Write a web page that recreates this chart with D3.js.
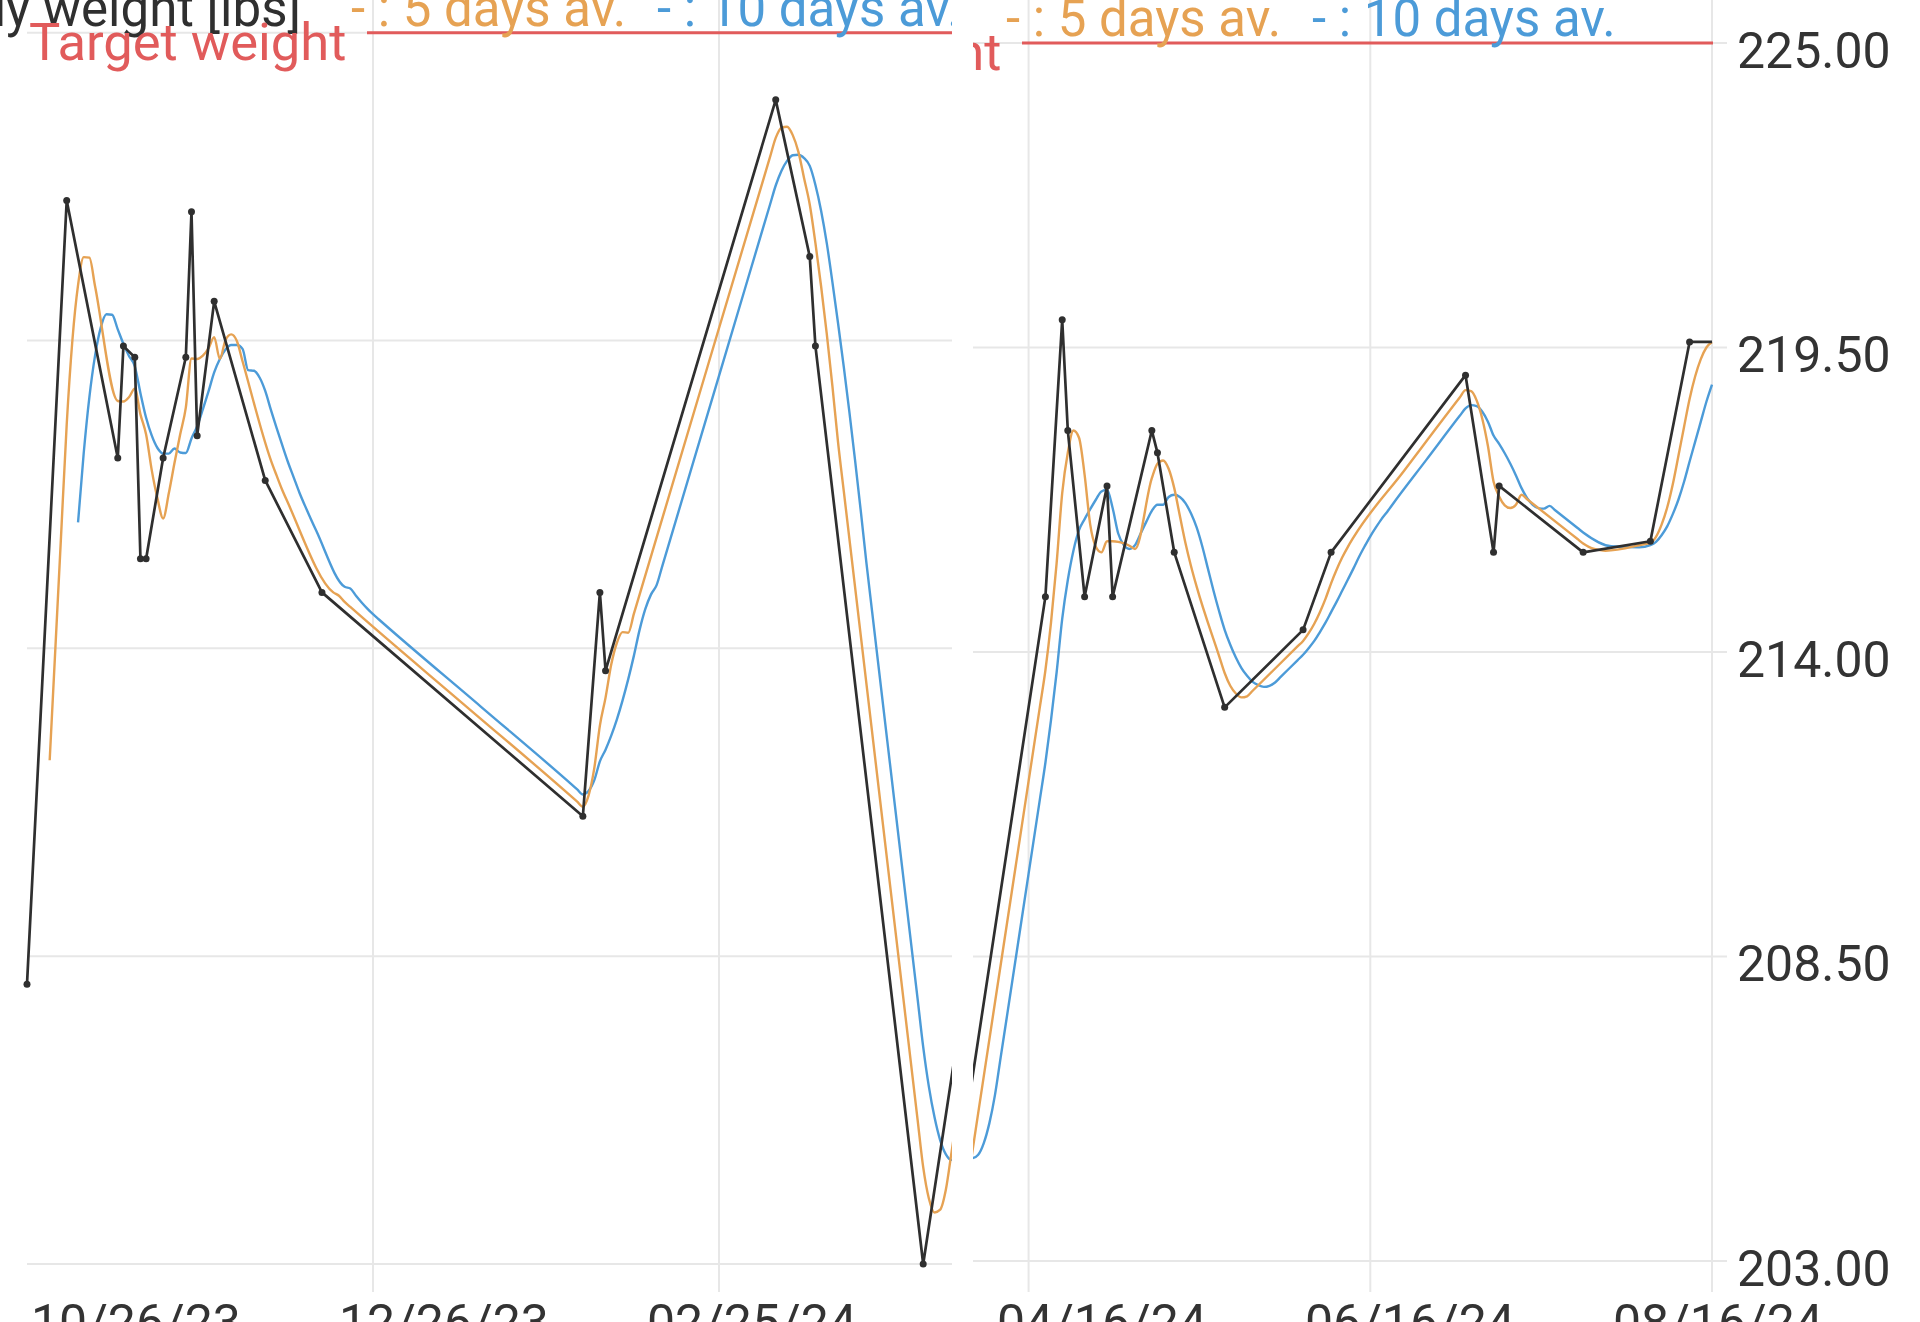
<!DOCTYPE html>
<html>
<head>
<meta charset="utf-8">
<script src="https://cdn.jsdelivr.net/npm/d3@7"></script>
<style>
  html, body { margin: 0; padding: 0; background: #fff; }
  svg { display: block; font-family: Roboto, "Noto Sans", sans-serif; }
</style>
</head>
<body>
<svg id="chart" width="1920" height="1322"></svg>
<script>
// measured weights (lbs)
const weightDates = ["2023-10-26","2023-11-02","2023-11-11","2023-11-12","2023-11-14","2023-11-15","2023-11-16","2023-11-19","2023-11-23","2023-11-24","2023-11-25","2023-11-28","2023-12-07","2023-12-17","2024-02-01","2024-02-04","2024-02-05","2024-03-06","2024-03-12","2024-03-13","2024-04-01","2024-04-19","2024-04-22","2024-04-23","2024-04-26","2024-04-30","2024-05-01","2024-05-08","2024-05-09","2024-05-12","2024-05-21","2024-06-04","2024-06-09","2024-07-03","2024-07-08","2024-07-09","2024-07-24","2024-08-05","2024-08-12"];
const weightValues = [208.0,222.0,217.4,219.4,219.2,215.6,215.6,217.4,219.2,221.8,217.8,220.2,217.0,215.0,211.0,215.0,213.6,223.8,221.0,219.4,203.0,215.0,220.0,218.0,215.0,217.0,215.0,218.0,217.6,215.8,213.0,214.4,215.8,219.0,215.8,217.0,215.8,216.0,219.6];
const todayDate = "2024-08-16";

// 5 days average
const avg5Dates = ["2023-10-30","2023-10-31","2023-11-01","2023-11-02","2023-11-03","2023-11-04","2023-11-05","2023-11-06","2023-11-07","2023-11-11","2023-11-12","2023-11-13","2023-11-14","2023-11-15","2023-11-16","2023-11-17","2023-11-18","2023-11-19","2023-11-20","2023-11-21","2023-11-22","2023-11-23","2023-11-24","2023-11-25","2023-11-26","2023-11-27","2023-11-28","2023-11-29","2023-11-30","2023-12-01","2023-12-02","2023-12-03","2023-12-08","2023-12-09","2023-12-10","2023-12-11","2023-12-19","2023-12-20","2023-12-21","2023-12-22","2024-01-11","2024-01-30","2024-01-31","2024-02-01","2024-02-02","2024-02-03","2024-02-04","2024-02-05","2024-02-06","2024-02-07","2024-02-08","2024-02-09","2024-02-10","2024-02-11","2024-02-23","2024-03-05","2024-03-06","2024-03-07","2024-03-08","2024-03-09","2024-03-10","2024-03-11","2024-03-12","2024-03-13","2024-03-14","2024-03-15","2024-03-16","2024-03-17","2024-03-18","2024-03-25","2024-03-31","2024-04-01","2024-04-02","2024-04-03","2024-04-04","2024-04-05","2024-04-06","2024-04-07","2024-04-13","2024-04-18","2024-04-19","2024-04-20","2024-04-21","2024-04-22","2024-04-23","2024-04-24","2024-04-25","2024-04-26","2024-04-27","2024-04-28","2024-04-29","2024-04-30","2024-05-01","2024-05-02","2024-05-03","2024-05-04","2024-05-05","2024-05-08","2024-05-09","2024-05-10","2024-05-11","2024-05-12","2024-05-13","2024-05-14","2024-05-15","2024-05-16","2024-05-20","2024-05-21","2024-05-22","2024-05-23","2024-05-24","2024-05-25","2024-05-26","2024-06-03","2024-06-04","2024-06-05","2024-06-06","2024-06-07","2024-06-08","2024-06-09","2024-06-10","2024-06-11","2024-06-12","2024-06-13","2024-06-22","2024-07-02","2024-07-03","2024-07-04","2024-07-05","2024-07-06","2024-07-07","2024-07-08","2024-07-09","2024-07-10","2024-07-11","2024-07-12","2024-07-13","2024-07-14","2024-07-23","2024-07-24","2024-07-25","2024-07-26","2024-07-27","2024-07-28","2024-08-04","2024-08-05","2024-08-06","2024-08-07","2024-08-08","2024-08-09","2024-08-10","2024-08-11","2024-08-12","2024-08-13","2024-08-14","2024-08-15","2024-08-16"];
const avg5Values = [212.0,214.0,216.0,218.0,219.5,220.49,220.99,220.98,220.47,218.42,218.41,218.49,218.64,218.18,217.82,217.18,216.68,216.32,216.77,217.31,217.82,218.3,219.18,219.17,219.23,219.36,219.56,219.17,219.51,219.61,219.49,219.13,217.36,217.09,216.83,216.6,215.0,214.94,214.83,214.74,213.0,211.35,211.26,211.17,211.37,211.85,212.62,213.12,213.71,214.1,214.29,214.28,214.62,214.96,219.04,222.78,223.12,223.3,223.32,223.17,222.87,222.4,221.93,221.24,220.47,219.62,218.68,217.67,216.81,210.77,205.59,204.73,204.17,203.92,203.97,204.33,205.0,205.67,209.67,213.0,213.67,214.53,215.6,216.87,217.6,218.0,217.87,217.2,216.3,215.9,215.8,216.0,216.0,215.99,215.96,215.92,215.86,217.14,217.4,217.46,217.31,216.96,216.46,215.97,215.55,215.18,213.93,213.62,213.39,213.25,213.18,213.2,213.3,214.1,214.2,214.34,214.51,214.72,214.96,215.24,215.49,215.71,215.9,216.07,217.27,218.6,218.73,218.71,218.54,218.21,217.72,217.08,216.81,216.65,216.6,216.66,216.84,216.76,216.04,215.96,215.9,215.86,215.84,215.83,215.95,215.97,216.08,216.3,216.61,217.03,217.54,218.06,218.57,218.98,219.29,219.5,219.6];

// 10 days average
const avg10Dates = ["2023-11-04","2023-11-05","2023-11-06","2023-11-07","2023-11-08","2023-11-09","2023-11-10","2023-11-11","2023-11-12","2023-11-13","2023-11-14","2023-11-15","2023-11-16","2023-11-17","2023-11-18","2023-11-19","2023-11-20","2023-11-21","2023-11-22","2023-11-23","2023-11-24","2023-11-25","2023-11-26","2023-11-27","2023-11-28","2023-11-29","2023-11-30","2023-12-01","2023-12-02","2023-12-03","2023-12-04","2023-12-05","2023-12-06","2023-12-07","2023-12-08","2023-12-09","2023-12-10","2023-12-11","2023-12-12","2023-12-13","2023-12-14","2023-12-15","2023-12-16","2023-12-21","2023-12-22","2023-12-23","2023-12-24","2023-12-25","2023-12-26","2023-12-27","2024-01-14","2024-01-30","2024-01-31","2024-02-01","2024-02-02","2024-02-03","2024-02-04","2024-02-05","2024-02-06","2024-02-07","2024-02-08","2024-02-09","2024-02-10","2024-02-11","2024-02-12","2024-02-13","2024-02-14","2024-02-15","2024-02-16","2024-02-25","2024-03-05","2024-03-06","2024-03-07","2024-03-08","2024-03-09","2024-03-10","2024-03-11","2024-03-12","2024-03-13","2024-03-14","2024-03-15","2024-03-16","2024-03-17","2024-03-18","2024-03-19","2024-03-20","2024-03-21","2024-03-22","2024-03-23","2024-03-27","2024-03-31","2024-04-01","2024-04-02","2024-04-03","2024-04-04","2024-04-05","2024-04-06","2024-04-07","2024-04-08","2024-04-09","2024-04-10","2024-04-11","2024-04-12","2024-04-15","2024-04-18","2024-04-19","2024-04-20","2024-04-21","2024-04-22","2024-04-23","2024-04-24","2024-04-25","2024-04-26","2024-04-27","2024-04-28","2024-04-29","2024-04-30","2024-05-01","2024-05-02","2024-05-03","2024-05-04","2024-05-05","2024-05-06","2024-05-07","2024-05-08","2024-05-09","2024-05-10","2024-05-11","2024-05-12","2024-05-13","2024-05-14","2024-05-15","2024-05-16","2024-05-17","2024-05-18","2024-05-19","2024-05-20","2024-05-21","2024-05-22","2024-05-23","2024-05-24","2024-05-25","2024-05-26","2024-05-27","2024-05-28","2024-05-29","2024-05-30","2024-05-31","2024-06-03","2024-06-04","2024-06-05","2024-06-06","2024-06-07","2024-06-08","2024-06-09","2024-06-10","2024-06-11","2024-06-12","2024-06-13","2024-06-14","2024-06-15","2024-06-16","2024-06-17","2024-06-18","2024-06-19","2024-06-20","2024-06-26","2024-07-02","2024-07-03","2024-07-04","2024-07-05","2024-07-06","2024-07-07","2024-07-08","2024-07-09","2024-07-10","2024-07-11","2024-07-12","2024-07-13","2024-07-14","2024-07-15","2024-07-16","2024-07-17","2024-07-18","2024-07-19","2024-07-23","2024-07-24","2024-07-29","2024-08-03","2024-08-05","2024-08-06","2024-08-07","2024-08-08","2024-08-09","2024-08-10","2024-08-11","2024-08-12","2024-08-13","2024-08-14","2024-08-15","2024-08-16"];
const avg10Values = [216.25,217.49,218.49,219.23,219.73,219.97,219.96,219.7,219.44,219.22,219.04,218.56,218.12,217.8,217.58,217.48,217.48,217.57,217.5,217.49,217.75,217.97,218.27,218.59,218.93,219.17,219.34,219.42,219.42,219.35,218.97,218.96,218.84,218.6,218.26,217.94,217.63,217.33,217.06,216.79,216.55,216.32,216.1,215.1,215.07,214.94,214.82,214.71,214.61,214.52,212.96,211.57,211.48,211.39,211.45,211.64,211.98,212.19,212.44,212.73,213.07,213.45,213.87,214.33,214.7,214.96,215.13,215.47,215.81,218.87,221.93,222.27,222.53,222.71,222.81,222.82,222.76,222.62,222.28,221.82,221.24,220.54,219.8,219.03,218.21,217.35,216.45,215.52,214.65,211.2,207.75,206.88,206.17,205.62,205.21,204.96,204.86,204.92,205.13,205.49,206.0,206.67,207.33,209.33,211.33,212.0,212.77,213.63,214.6,215.3,215.83,216.2,216.4,216.58,216.75,216.9,216.93,216.6,216.14,215.93,215.86,215.93,216.14,216.35,216.55,216.66,216.66,216.8,216.84,216.8,216.69,216.5,216.25,215.91,215.51,215.11,214.74,214.4,214.13,213.9,213.71,213.57,213.46,213.4,213.37,213.39,213.45,213.55,213.85,213.95,214.07,214.2,214.36,214.53,214.72,214.91,215.11,215.31,215.51,215.72,215.91,216.09,216.25,216.4,216.53,216.67,217.47,218.27,218.4,218.46,218.44,218.34,218.16,217.91,217.76,217.59,217.4,217.19,216.96,216.78,216.66,216.6,216.59,216.64,216.56,216.24,216.16,215.91,215.89,215.93,215.99,216.11,216.27,216.49,216.75,217.07,217.44,217.8,218.16,218.52,218.83];

const targetWeight = 225;
const yTicks = [203, 208.5, 214, 219.5, 225];
const leftTicks = ["2023-10-26", "2023-12-26", "2024-02-25"];
const rightTicks = ["2024-04-16", "2024-06-16", "2024-08-16"];
const legendItems = [
    { text: "- : 5 days av.", color: "#e6a253", x: 351 },
    { text: "- : 10 days av.", color: "#4c9bd8", x: 657 }
];

const colors = { weight: "#2f2f2f", avg5: "#e6a253", avg10: "#4c9bd8", target: "#e15b5b", grid: "#e7e7e7", text: "#333333" };

const parse = d3.timeParse("%Y-%m-%d");
const fmtDate = d3.timeFormat("%m/%d/%y");
const fmtWeight = d3.format(".2f");

const weights = weightDates.map(function(d, i) { return { date: parse(d), value: weightValues[i] }; });
// line runs on flat to today
const weightLine = weights.concat([{ date: parse(todayDate), value: weightValues[weightValues.length - 1] }]);
const avg5 = avg5Dates.map(function(d, i) { return { date: parse(d), value: avg5Values[i] }; });
const avg10 = avg10Dates.map(function(d, i) { return { date: parse(d), value: avg10Values[i] }; });

const svg = d3.select("#chart");
svg.append("rect").attr("width", 1920).attr("height", 1322).attr("fill", "#fff");

// two screenshots of the same chart, scrolled to different periods
const panels = [
    { id: "left", x0: 0, x1: 952, domain: ["2023-10-26", "2024-02-25"], range: [27, 719], yRange: [1264, 32.7],
      gridLeft: 27, gridRight: 952, gridTicks: leftTicks.slice(1), labelTicks: leftTicks, labelStart: 31,
      shift: 0, targetStart: 367, targetEnd: 952, yAxis: false },
    { id: "right", x0: 973, x1: 1920, domain: ["2024-04-16", "2024-08-16"], range: [1028.6, 1712], yRange: [1261, 43],
      gridLeft: 973, gridRight: 1727, gridTicks: rightTicks, labelTicks: rightTicks, labelStart: 997,
      shift: 655, targetStart: 1022, targetEnd: 1713, yAxis: true }
];

const defs = svg.append("defs");

panels.forEach(function(p) {
    const x = d3.scaleTime().domain(p.domain.map(parse)).range(p.range);
    const y = d3.scaleLinear().domain([203, 225]).range(p.yRange);

    defs.append("clipPath").attr("id", "clip-" + p.id)
        .append("rect").attr("x", p.x0).attr("y", 0).attr("width", p.x1 - p.x0).attr("height", 1322);

    const g = svg.append("g").attr("clip-path", "url(#clip-" + p.id + ")");

    // grid
    g.append("g").selectAll("line")
        .data(yTicks)
        .enter().append("line")
        .attr("x1", p.gridLeft).attr("x2", p.gridRight)
        .attr("y1", function(d) { return y(d); }).attr("y2", function(d) { return y(d); })
        .attr("stroke", colors.grid).attr("stroke-width", 2);

    g.append("g").selectAll("line")
        .data(p.gridTicks.map(parse))
        .enter().append("line")
        .attr("x1", function(d) { return x(d); }).attr("x2", function(d) { return x(d); })
        .attr("y1", 0).attr("y2", 1292)
        .attr("stroke", colors.grid).attr("stroke-width", 2);

    // target weight
    g.append("line")
        .attr("x1", p.targetStart).attr("x2", p.targetEnd)
        .attr("y1", y(targetWeight)).attr("y2", y(targetWeight))
        .attr("stroke", colors.target).attr("stroke-width", 3);

    const smooth = d3.line()
        .x(function(d) { return x(d.date); })
        .y(function(d) { return y(d.value); })
        .curve(d3.curveMonotoneX);

    const straight = d3.line()
        .x(function(d) { return x(d.date); })
        .y(function(d) { return y(d.value); });

    g.append("path").datum(avg10)
        .attr("d", smooth).attr("fill", "none")
        .attr("stroke", colors.avg10).attr("stroke-width", 2.4);

    g.append("path").datum(avg5)
        .attr("d", smooth).attr("fill", "none")
        .attr("stroke", colors.avg5).attr("stroke-width", 2.4);

    g.append("path").datum(weightLine)
        .attr("d", straight).attr("fill", "none")
        .attr("stroke", colors.weight).attr("stroke-width", 2.7)
        .attr("stroke-linejoin", "round");

    g.append("g").selectAll("circle")
        .data(weights)
        .enter().append("circle")
        .attr("cx", function(d) { return x(d.date); })
        .attr("cy", function(d) { return y(d.value); })
        .attr("r", 3.5)
        .attr("fill", colors.weight);

    // legend
    const legendY = y(targetWeight);
    const legend = g.append("g").style("font-size", "51px");
    legend.append("text")
        .attr("x", 301 + p.shift).attr("y", legendY - 7)
        .attr("text-anchor", "end")
        .attr("fill", colors.weight)
        .text("Body weight [lbs]");
    legend.selectAll("text.item")
        .data(legendItems)
        .enter().append("text")
        .attr("class", "item")
        .attr("x", function(d) { return d.x + p.shift; })
        .attr("y", legendY - 7)
        .attr("fill", function(d) { return d.color; })
        .text(function(d) { return d.text; });
    legend.append("text")
        .attr("x", 29 + p.shift).attr("y", legendY + 27)
        .attr("fill", colors.target)
        .style("font-size", "52.5px")
        .text("Target weight");

    // date labels along the bottom
    g.append("g").selectAll("text")
        .data(p.labelTicks.map(parse))
        .enter().append("text")
        .attr("x", function(d, i) { return p.labelStart + i * 308; })
        .attr("y", 1340)
        .attr("fill", colors.text)
        .style("font-size", "50px")
        .text(function(d) { return fmtDate(d); });

    if (p.yAxis) {
        const axis = d3.axisRight(y)
            .tickValues(yTicks)
            .tickFormat(fmtWeight)
            .tickSize(0)
            .tickPadding(0);
        const ag = svg.append("g")
            .attr("transform", "translate(1737,0)")
            .call(axis);
        ag.select(".domain").remove();
        ag.selectAll("text")
            .attr("dy", "0.48em")
            .attr("fill", colors.text)
            .style("font-size", "50px")
            .style("font-family", "Roboto, 'Noto Sans', sans-serif");
    }
});
</script>
</body>
</html>
